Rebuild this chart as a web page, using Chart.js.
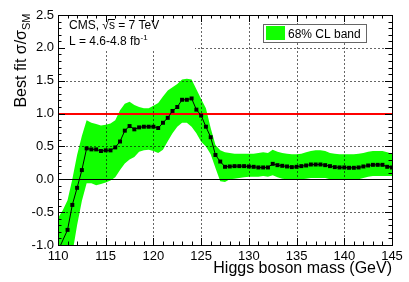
<!DOCTYPE html>
<html><head><meta charset="utf-8">
<script src="https://cdn.jsdelivr.net/npm/chart.js@4/dist/chart.umd.min.js"></script>
<style>html,body{margin:0;padding:0;background:#fff;}canvas{display:block;}</style>
</head><body>
<canvas id="c" width="409" height="282" style="width:409px;height:282px"></canvas>
<script>
// ---- data ----
const masses = [110,110.5,111,111.5,112,112.5,113,113.5,114,114.5,115,115.5,116,116.5,117,117.5,118,118.5,119,119.5,
  120,120.5,121,121.5,122,122.5,123,123.5,124,124.5,125,125.5,126,126.5,127,127.5,128,128.5,129,129.5,
  130,130.5,131,131.5,132,132.5,133,133.5,134,134.5,135,135.5,136,136.5,137,137.5,138,138.5,139,139.5,
  140,140.5,141,141.5,142,142.5,143,143.5,144,144.5,145];
const bestFit = [-1.09,null,-0.77,-0.39,-0.13,0.14,0.47,0.455,0.455,0.43,0.44,0.44,0.485,0.575,0.74,0.81,0.76,0.79,0.80,0.80,
  0.80,0.78,0.86,0.935,1.04,1.10,1.21,1.21,1.23,1.06,0.97,0.80,0.64,0.37,0.27,0.19,0.195,0.20,0.20,0.20,
  0.195,0.19,0.18,0.18,0.18,0.235,0.215,0.205,0.195,0.185,0.19,0.20,0.21,0.225,0.225,0.225,0.215,0.20,0.185,0.18,
  0.18,0.175,0.175,0.18,0.195,0.21,0.22,0.22,0.22,0.19,0.18];
const bandHigh = [-0.59,-0.47,-0.32,0.00,0.37,0.66,0.90,0.86,0.84,0.82,0.83,0.85,0.90,1.05,1.15,1.18,1.13,1.10,1.08,1.08,
  1.12,1.16,1.26,1.35,1.40,1.45,1.52,1.53,1.52,1.37,1.22,1.08,0.78,0.52,0.44,0.41,0.40,0.39,0.39,0.39,
  0.39,0.39,0.40,0.41,0.40,0.45,0.42,0.40,0.39,0.38,0.38,0.39,0.41,0.43,0.44,0.44,0.43,0.40,0.39,0.38,
  0.38,0.38,0.38,0.39,0.40,0.42,0.43,0.43,0.43,0.41,0.39];
const bandLow = [-2.4,-2.0,-1.6,-1.13,-0.70,-0.33,-0.06,-0.06,-0.09,-0.07,-0.05,-0.02,0.03,0.14,0.24,0.30,0.34,0.42,0.44,0.45,
  0.43,0.40,0.45,0.58,0.70,0.80,0.86,0.86,0.80,0.70,0.57,0.50,0.38,0.17,-0.03,-0.04,0.00,0.01,0.02,0.03,
  0.04,0.04,0.04,0.05,0.04,0.06,0.03,0.01,0.00,-0.01,-0.01,0.00,0.01,0.02,0.02,0.02,0.02,0.00,-0.01,-0.01,
  -0.01,-0.01,-0.01,0.00,0.02,0.04,0.05,0.05,0.05,0.05,0.05];
const xTicks = [110,115,120,125,130,135,140,145];
const yTicks = [-1,-0.5,0,0.5,1,1.5,2,2.5];
const smReference = 1;
const zeroLine = 0;

const GREEN = '#11ff00';
const FONT = '"Liberation Sans", Arial, Helvetica, sans-serif';

const overlay = {
  id: 'overlay',
  beforeDatasetDraw(chart, args) {
    if (args.index !== 0) return;
    const {ctx, chartArea: a, scales: {x, y}} = chart;
    ctx.save();
    // dotted grid
    ctx.strokeStyle = 'rgba(0,0,0,0.6)';
    ctx.lineWidth = 1;
    ctx.setLineDash([2, 2]);
    ctx.beginPath();
    for (const v of xTicks) {
      if (v <= x.min || v >= x.max) continue;
      const px = Math.round(x.getPixelForValue(v)) + 0.5;
      ctx.moveTo(px, a.top); ctx.lineTo(px, a.bottom);
    }
    for (const v of yTicks) {
      if (v <= y.min || v >= y.max || v === zeroLine || v === smReference) continue;
      const py = Math.round(y.getPixelForValue(v)) + 0.5;
      ctx.moveTo(a.left, py); ctx.lineTo(a.right, py);
    }
    ctx.stroke();
    ctx.setLineDash([]);
    // white box behind the CMS text
    ctx.fillStyle = '#fff';
    ctx.fillRect(a.left, a.top, 195 - a.left, 50 - a.top);
    // zero line
    ctx.strokeStyle = '#000';
    ctx.beginPath();
    const pz = Math.round(y.getPixelForValue(zeroLine)) + 0.5;
    ctx.moveTo(a.left, pz); ctx.lineTo(a.right, pz);
    ctx.stroke();
    // SM reference line
    ctx.fillStyle = '#ff0000';
    const p1 = Math.round(y.getPixelForValue(smReference));
    ctx.fillRect(a.left, p1 - 1, a.right - a.left, 2);
    // frame and inward ticks
    ctx.strokeStyle = '#000';
    ctx.lineWidth = 1;
    ctx.strokeRect(a.left + 0.5, a.top + 0.5, a.right - a.left, a.bottom - a.top);
    ctx.beginPath();
    for (let i = 0; i <= 35; i++) {
      const px = Math.round(x.getPixelForValue(110 + i)) + 0.5;
      const L = i % 5 === 0 ? 7 : 3.5;
      ctx.moveTo(px, a.bottom); ctx.lineTo(px, a.bottom - L);
      ctx.moveTo(px, a.top); ctx.lineTo(px, a.top + L);
    }
    for (let i = 0; i <= 35; i++) {
      const py = Math.round(y.getPixelForValue(-1 + i * 0.1)) + 0.5;
      const L = i % 5 === 0 ? 7 : 3.5;
      ctx.moveTo(a.left, py); ctx.lineTo(a.left + L, py);
      ctx.moveTo(a.right, py); ctx.lineTo(a.right - L, py);
    }
    ctx.stroke();
    ctx.restore();
  },
  afterDraw(chart) {
    const {ctx, chartArea: a} = chart;
    ctx.save();
    ctx.fillStyle = '#000';
    ctx.textBaseline = 'alphabetic';
    // CMS label
    ctx.font = '12px ' + FONT;
    ctx.textAlign = 'left';
    const t1 = 'CMS, \u221As = 7 TeV';
    ctx.fillText(t1, 69, 29);
    const xs0 = 69 + ctx.measureText('CMS, \u221A').width;
    const xs1 = 69 + ctx.measureText('CMS, \u221As').width;
    ctx.fillRect(xs0 - 1, 19, xs1 - xs0 + 1, 1);
    const t2 = 'L = 4.6-4.8 fb';
    ctx.fillText(t2, 69, 45);
    const w2 = ctx.measureText(t2).width;
    ctx.font = '8px ' + FONT;
    ctx.fillText('-1', 69 + w2 + 0.5, 39.5);
    // legend
    ctx.fillStyle = '#fff';
    ctx.fillRect(263, 24, 104, 19);
    ctx.strokeStyle = '#666';
    ctx.lineWidth = 1;
    ctx.strokeRect(263.5, 24.5, 103, 18);
    ctx.fillStyle = GREEN;
    ctx.fillRect(266, 26, 19, 14);
    ctx.fillStyle = '#000';
    ctx.font = '12px ' + FONT;
    ctx.fillText('68% CL band', 288, 38);
    // x title
    ctx.font = '16px ' + FONT;
    ctx.textAlign = 'right';
    ctx.fillText('Higgs boson mass (GeV)', a.right, 273);
    // y title (rotated)
    ctx.textAlign = 'left';
    const main = 'Best fit \u03C3/\u03C3';
    ctx.font = '16px ' + FONT;
    const wm = ctx.measureText(main).width;
    ctx.font = '11px ' + FONT;
    const ws = ctx.measureText('SM').width;
    const start = 13.5 + wm + ws;
    ctx.translate(26, start);
    ctx.rotate(-Math.PI / 2);
    ctx.font = '16px ' + FONT;
    ctx.fillText(main, 0, 0);
    ctx.font = '11px ' + FONT;
    ctx.fillText('SM', wm, 4);
    ctx.restore();
  }
};

const tickFont = {family: FONT, size: 13};
new Chart(document.getElementById('c'), {
  type: 'line',
  data: {
    datasets: [
      {label: 'Best fit', data: masses.map((m, i) => ({x: m, y: bestFit[i]})),
       borderColor: '#000', borderWidth: 1, pointStyle: 'rect', pointRadius: 2.8,
       pointBackgroundColor: '#000', pointBorderWidth: 0, spanGaps: true, fill: false, clip: 0, order: 1},
      {label: '68% CL band', data: masses.map((m, i) => ({x: m, y: bandHigh[i]})),
       borderColor: 'rgba(0,0,0,0)', borderWidth: 0, pointRadius: 0, backgroundColor: GREEN,
       fill: '+1', clip: 0, order: 2},
      {label: 'low', data: masses.map((m, i) => ({x: m, y: bandLow[i]})),
       borderColor: 'rgba(0,0,0,0)', borderWidth: 0, pointRadius: 0, fill: false, clip: 0, order: 3}
    ]
  },
  options: {
    responsive: false, animation: false, devicePixelRatio: 1,
    layout: {padding: {left: 0, top: 15, right: 17, bottom: 0}},
    plugins: {legend: {display: false}, tooltip: {enabled: false}},
    elements: {line: {tension: 0}},
    scales: {
      x: {type: 'linear', min: 110, max: 145,
          grid: {display: false, drawTicks: false}, border: {display: false},
          afterBuildTicks: s => { s.ticks = xTicks.map(v => ({value: v})); },
          afterFit: s => { s.height = 37; },
          ticks: {autoSkip: false, maxRotation: 0, padding: 4, color: '#000', font: tickFont,
                  callback: v => String(v)}},
      y: {type: 'linear', min: -1, max: 2.5,
          grid: {display: false, drawTicks: false}, border: {display: false},
          afterBuildTicks: s => { s.ticks = yTicks.map(v => ({value: v})); },
          afterFit: s => { s.width = 58; },
          ticks: {autoSkip: false, padding: 4, color: '#000', font: tickFont,
                  callback: v => Number(v).toFixed(1)}}
    }
  },
  plugins: [overlay]
});
</script>
</body></html>
